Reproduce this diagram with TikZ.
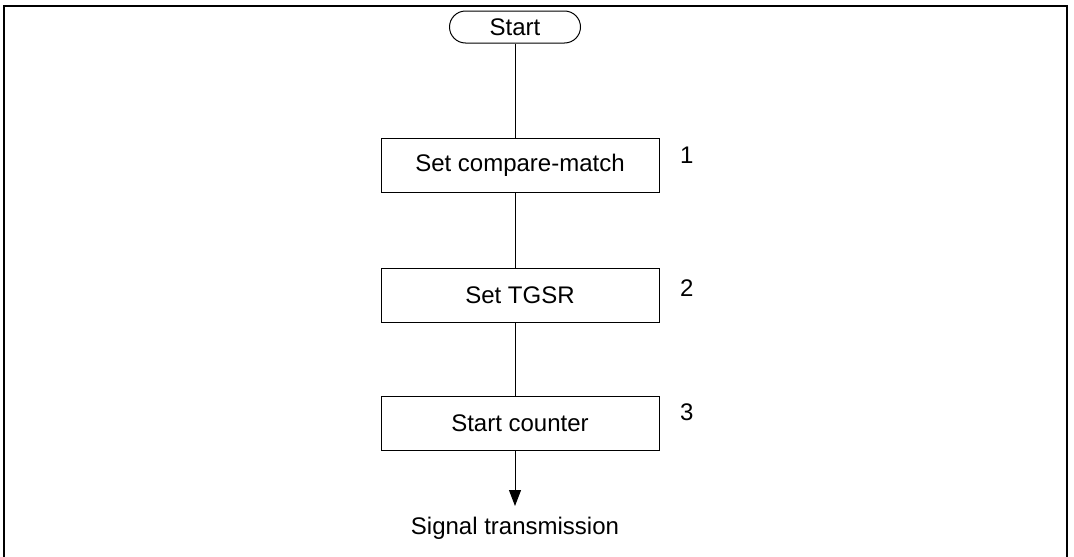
\documentclass[tikz,border=0pt]{standalone}
\usepackage{fontspec}
\setmainfont{Liberation Sans}
\usetikzlibrary{arrows.meta}
\begin{document}
\begin{tikzpicture}[x=1pt,y=-1pt,
  txt/.style={font=\fontsize{24}{28}\selectfont, inner sep=0pt},
  procbox/.style={draw, line width=1pt, minimum width=278pt, minimum height=54pt, txt},
  term/.style={draw, line width=1pt, rounded corners=16pt, minimum width=131pt, minimum height=32pt, txt},
  conn/.style={line width=1pt},
  frame/.style={line width=2.2pt}]
\useasboundingbox (0,0) rectangle (1074,557);
\draw[frame] (4,600) -- (4,6) -- (1067,6) -- (1067,600);
\node[term] (start) at (515,27) {Start};
\node[procbox] (b1) at (520,165) {Set compare-match};
\node[procbox] (b2) at (520,295) {Set TGSR};
\node[procbox] (b3) at (520,423) {Start counter};
\node[txt, anchor=west] (n1) at (680,155) {1};
\node[txt, anchor=west] (n2) at (680,288) {2};
\node[txt, anchor=west] (n3) at (680,412) {3};
\node[txt] (sig) at (515,528) {Signal transmission};
\coordinate (tip) at (515,506);
\draw[conn] (start.south) -- (start.south |- b1.north);
\draw[conn] (start.south |- b1.south) -- (start.south |- b2.north);
\draw[conn] (start.south |- b2.south) -- (start.south |- b3.north);
\draw[conn, -{Triangle[length=16pt,width=12pt]}] (start.south |- b3.south) -- (tip);
\end{tikzpicture}
\end{document}
